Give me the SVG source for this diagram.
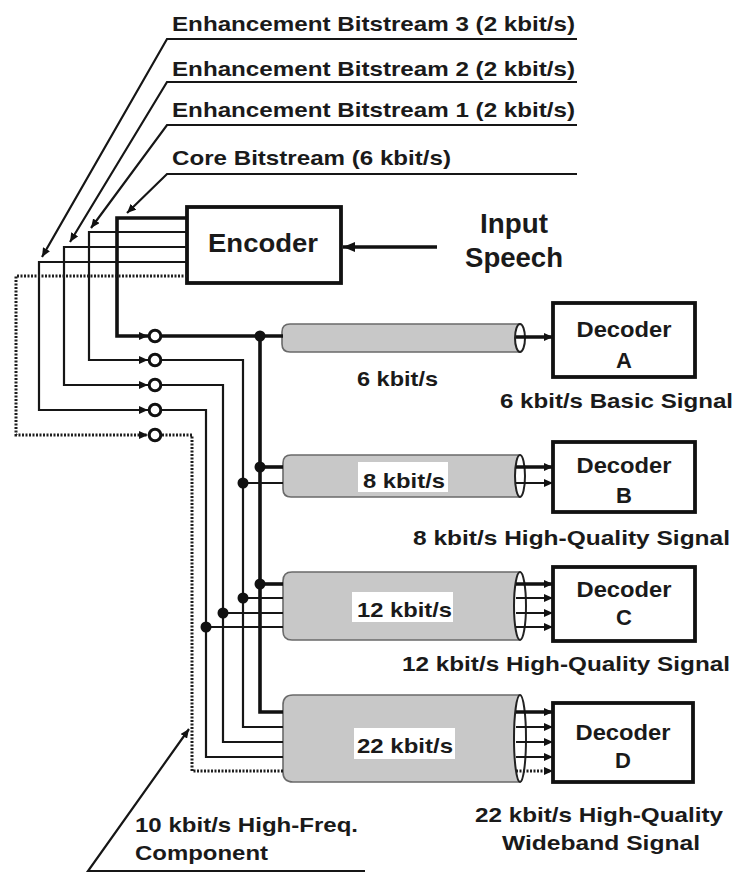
<svg xmlns="http://www.w3.org/2000/svg" width="736" height="872" viewBox="0 0 736 872">
<style>
text{font-family:"Liberation Sans",Arial,sans-serif;font-weight:bold;fill:#1a1a1a;}
.lbl{font-size:21px;}
.dec{font-size:22px;text-anchor:middle;}
.ln{fill:none;stroke:#161616;stroke-width:2.2;}
.thk{fill:none;stroke:#111;stroke-width:3.6;}
.dot{fill:none;stroke:#1e1e1e;stroke-width:3;stroke-dasharray:2 1.5;}
.box{fill:#fff;stroke:#111;stroke-width:3.8;}
.cyl{fill:#c8c8c8;stroke:#6a6a6a;stroke-width:1.6;}
.cap{fill:#fff;stroke:#222;stroke-width:2;}
.sw{fill:#fff;stroke:#111;stroke-width:3;}
.jn{fill:#111;}
.wb{fill:#fff;}
</style>
<defs>
<marker id="ah" markerWidth="9" markerHeight="8" refX="9" refY="4" orient="auto" markerUnits="userSpaceOnUse"><path d="M0,0 L9,4 L0,8 z" fill="#111"/></marker>
<marker id="ahb" markerWidth="12" markerHeight="10" refX="12" refY="5" orient="auto" markerUnits="userSpaceOnUse"><path d="M0,0 L12,5 L0,10 z" fill="#111"/></marker>
</defs>

<g id="labels">
<text class="lbl" x="172" y="31" textLength="403" lengthAdjust="spacingAndGlyphs">Enhancement Bitstream 3 (2 kbit/s)</text>
<text class="lbl" x="172" y="76" textLength="403" lengthAdjust="spacingAndGlyphs">Enhancement Bitstream 2 (2 kbit/s)</text>
<text class="lbl" x="172" y="117" textLength="403" lengthAdjust="spacingAndGlyphs">Enhancement Bitstream 1 (2 kbit/s)</text>
<text class="lbl" x="172" y="165" textLength="279" lengthAdjust="spacingAndGlyphs">Core Bitstream (6 kbit/s)</text>
<text x="480" y="233" style="font-size:27px" textLength="68" lengthAdjust="spacingAndGlyphs">Input</text>
<text x="465" y="267" style="font-size:27px" textLength="98" lengthAdjust="spacingAndGlyphs">Speech</text>
<text class="lbl" x="357" y="386" textLength="81" lengthAdjust="spacingAndGlyphs">6 kbit/s</text>
<text class="lbl" x="500" y="408" textLength="233" lengthAdjust="spacingAndGlyphs">6 kbit/s Basic Signal</text>
<text class="lbl" x="413" y="545" textLength="317" lengthAdjust="spacingAndGlyphs">8 kbit/s High-Quality Signal</text>
<text class="lbl" x="402" y="671" textLength="328" lengthAdjust="spacingAndGlyphs">12 kbit/s High-Quality Signal</text>
<text class="lbl" x="475" y="822" textLength="248" lengthAdjust="spacingAndGlyphs">22 kbit/s High-Quality</text>
<text class="lbl" x="502" y="850" textLength="198" lengthAdjust="spacingAndGlyphs">Wideband Signal</text>
<text class="lbl" x="135" y="832" textLength="223" lengthAdjust="spacingAndGlyphs">10 kbit/s High-Freq.</text>
<text class="lbl" x="135" y="860" textLength="133" lengthAdjust="spacingAndGlyphs">Component</text>
</g>

<g id="encoder">
<rect class="box" x="187" y="207" width="154" height="76"/>
<text x="208" y="252" style="font-size:26px" textLength="110" lengthAdjust="spacingAndGlyphs">Encoder</text>
</g>

<g id="cyl-6">
<path class="cyl" d="M520,324 H290 Q282,324 282,332 V344 Q282,352 290,352 H520 Z"/>
<ellipse class="cap" cx="520" cy="338" rx="5" ry="14"/>
</g>
<g id="cyl-8">
<path class="cyl" d="M520,455 H291 Q283,455 283,463 V489 Q283,497 291,497 H520 Z"/>
<ellipse class="cap" cx="520" cy="476" rx="5" ry="21"/>
<rect class="wb" x="358" y="462" width="90" height="30"/>
<text class="lbl" x="363" y="488" textLength="82" lengthAdjust="spacingAndGlyphs">8 kbit/s</text>
</g>
<g id="cyl-12">
<path class="cyl" d="M520,572 H292 Q283,572 283,581 V631 Q283,640 292,640 H520 Z"/>
<ellipse class="cap" cx="520" cy="606" rx="6" ry="34"/>
<rect class="wb" x="352" y="592" width="101" height="30"/>
<text class="lbl" x="357" y="617" textLength="95" lengthAdjust="spacingAndGlyphs">12 kbit/s</text>
</g>
<g id="cyl-22">
<path class="cyl" d="M520,695 H293 Q283,695 283,705 V772 Q283,782 293,782 H520 Z"/>
<ellipse class="cap" cx="520" cy="738.5" rx="6" ry="43.5"/>
<rect class="wb" x="354" y="728" width="101" height="31"/>
<text class="lbl" x="357" y="753" textLength="96" lengthAdjust="spacingAndGlyphs">22 kbit/s</text>
</g>

<g id="decoder-a">
<rect class="box" x="553" y="303" width="142" height="74"/>
<text class="dec" x="624" y="337" textLength="95" lengthAdjust="spacingAndGlyphs">Decoder</text>
<text class="dec" x="624" y="368">A</text>
</g>
<g id="decoder-b">
<rect class="box" x="553" y="442" width="142" height="70"/>
<text class="dec" x="624" y="473" textLength="95" lengthAdjust="spacingAndGlyphs">Decoder</text>
<text class="dec" x="624" y="503">B</text>
</g>
<g id="decoder-c">
<rect class="box" x="553" y="567" width="142" height="74"/>
<text class="dec" x="624" y="597" textLength="95" lengthAdjust="spacingAndGlyphs">Decoder</text>
<text class="dec" x="624" y="625">C</text>
</g>
<g id="decoder-d">
<rect class="box" x="553" y="703" width="140" height="79"/>
<text class="dec" x="623" y="740" textLength="95" lengthAdjust="spacingAndGlyphs">Decoder</text>
<text class="dec" x="623" y="768">D</text>
</g>

<g id="connectors">
<path class="ln" d="M577,39 H167 L42,257" marker-end="url(#ah)"/>
<path class="ln" d="M577,82 H167 L70,242" marker-end="url(#ah)"/>
<path class="ln" d="M577,125 H167 L91,228" marker-end="url(#ah)"/>
<path class="ln" d="M577,174 H167 L127,213" marker-end="url(#ah)"/>
<path class="ln" d="M365,871 H88 L189,729" marker-end="url(#ah)"/>
<path class="thk" d="M437,247 H343" marker-end="url(#ahb)"/>
<path class="thk" d="M187,218 H117 V336 H148" marker-end="url(#ah)"/>
<path class="ln" d="M187,232 H89 V360 H148" marker-end="url(#ah)"/>
<path class="ln" d="M187,247 H64 V385 H148" marker-end="url(#ah)"/>
<path class="ln" d="M187,262 H39 V410 H148" marker-end="url(#ah)"/>
<path class="dot" d="M187,276 H16 V435 H148" marker-end="url(#ah)"/>
<path class="thk" d="M162,336 H283"/>
<path class="thk" d="M260,336 V712 H283"/>
<path class="ln" d="M162,360 H243 V727 H283"/>
<path class="ln" d="M162,385 H223 V742 H283"/>
<path class="ln" d="M162,410 H206 V757 H283"/>
<path class="dot" d="M162,435 H192 V771 H283"/>
<path class="thk" d="M260,467 H283"/>
<path class="ln" d="M243,483 H283"/>
<path class="thk" d="M260,584 H283"/>
<path class="ln" d="M243,598 H283"/>
<path class="ln" d="M223,613 H283"/>
<path class="ln" d="M206,627 H283"/>
<circle class="jn" cx="260" cy="336" r="5.5"/>
<circle class="jn" cx="260" cy="467" r="5.5"/>
<circle class="jn" cx="243" cy="483" r="5.5"/>
<circle class="jn" cx="260" cy="584" r="5.5"/>
<circle class="jn" cx="243" cy="598" r="5.5"/>
<circle class="jn" cx="223" cy="613" r="5.5"/>
<circle class="jn" cx="206" cy="627" r="5.5"/>
<circle class="sw" cx="155" cy="336" r="5.8"/>
<circle class="sw" cx="155" cy="360" r="5.8"/>
<circle class="sw" cx="155" cy="385" r="5.8"/>
<circle class="sw" cx="155" cy="410" r="5.8"/>
<circle class="sw" cx="155" cy="435" r="5.8"/>
<path class="thk" d="M516,337 H553" marker-end="url(#ah)"/>
<path class="thk" d="M516,467 H553" marker-end="url(#ah)"/>
<path class="ln" d="M516,483 H553" marker-end="url(#ah)"/>
<path class="thk" d="M516,584 H553" marker-end="url(#ah)"/>
<path class="ln" d="M516,598 H553" marker-end="url(#ah)"/>
<path class="ln" d="M516,613 H553" marker-end="url(#ah)"/>
<path class="ln" d="M516,627 H553" marker-end="url(#ah)"/>
<path class="thk" d="M516,712 H553" marker-end="url(#ah)"/>
<path class="ln" d="M516,727 H553" marker-end="url(#ah)"/>
<path class="ln" d="M516,742 H553" marker-end="url(#ah)"/>
<path class="ln" d="M516,757 H553" marker-end="url(#ah)"/>
<path class="dot" d="M516,771 H553" marker-end="url(#ah)"/>
</g>
</svg>
